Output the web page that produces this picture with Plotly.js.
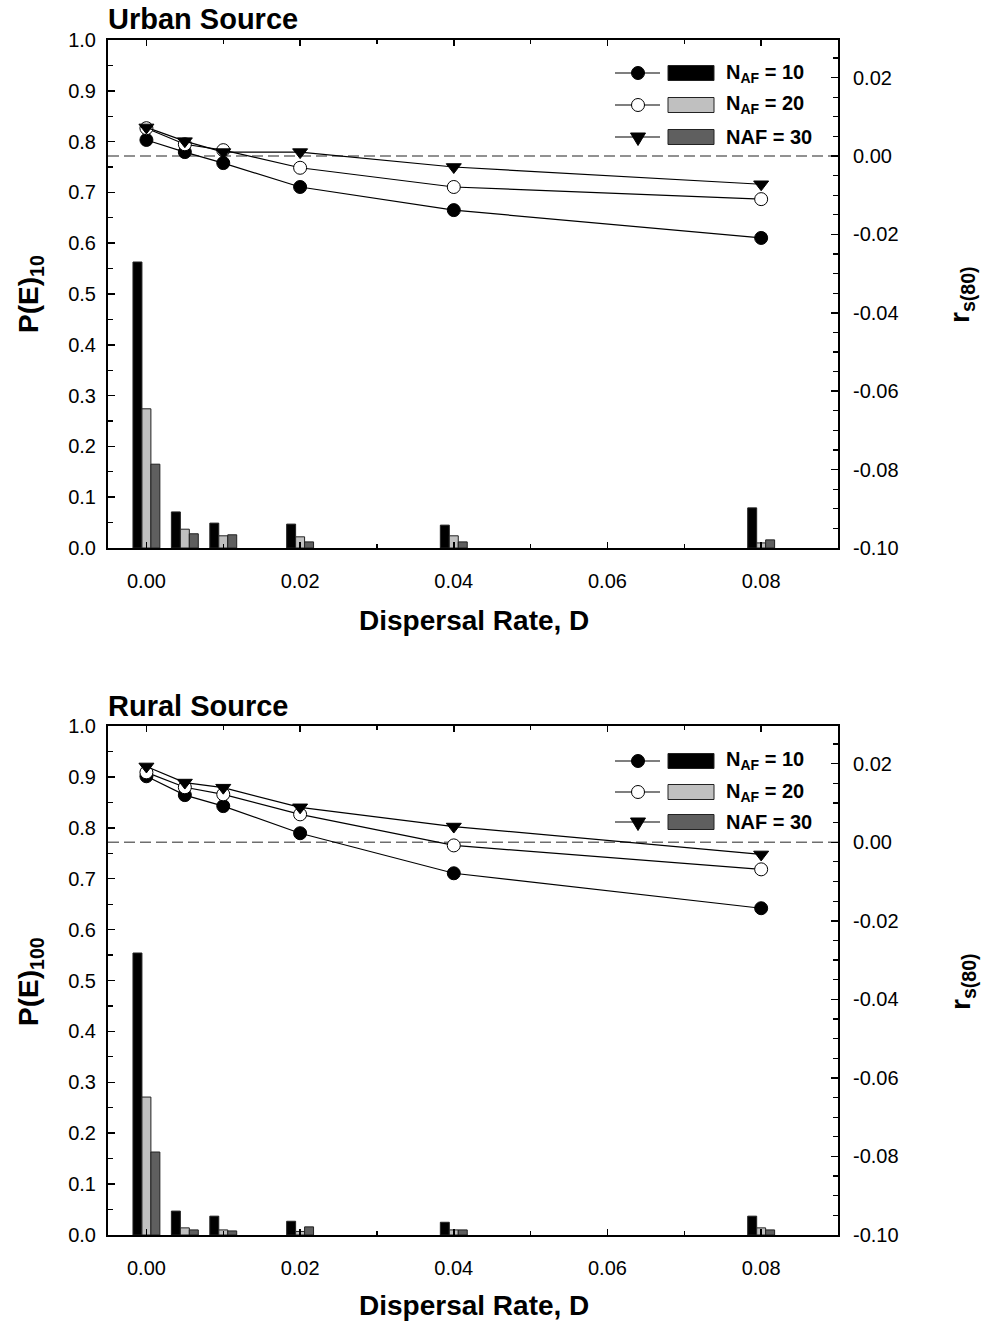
<!DOCTYPE html>
<html><head><meta charset="utf-8">
<script src="https://cdn.plot.ly/plotly-3.0.1.min.js"></script>
<style>body{margin:0;background:#fff}</style>
</head><body>
<div id="chart" style="width:982px;height:1322px"></div>
<script>
// ---- data ----
const dispersal = [0, 0.005, 0.01, 0.02, 0.04, 0.08];
const seriesNames = ['N<sub>AF</sub> = 10', 'N<sub>AF</sub> = 20', 'NAF = 30'];

const urbanP10 = [0.563, 0.071, 0.049, 0.047, 0.045, 0.079];
const urbanP20 = [0.274, 0.037, 0.024, 0.022, 0.024, 0.010];
const urbanP30 = [0.165, 0.028, 0.026, 0.012, 0.012, 0.016];
const urbanR10 = [0.0041, 0.0010, -0.0018, -0.0079, -0.0138, -0.0209];
const urbanR20 = [0.0071, 0.0030, 0.0015, -0.0030, -0.0079, -0.0110];
const urbanR30 = [0.0073, 0.0038, 0.0010, 0.0010, -0.0028, -0.0072];

const ruralP10 = [0.554, 0.047, 0.037, 0.027, 0.025, 0.037];
const ruralP20 = [0.271, 0.014, 0.010, 0.007, 0.010, 0.014];
const ruralP30 = [0.163, 0.010, 0.008, 0.016, 0.010, 0.010];
const ruralR10 = [0.0168, 0.0120, 0.0092, 0.0023, -0.0079, -0.0168];
const ruralR20 = [0.0178, 0.0140, 0.0122, 0.0071, -0.0008, -0.0069];
const ruralR30 = [0.0193, 0.0152, 0.0139, 0.0089, 0.0040, -0.0031];

const xTickVals = [0, 0.02, 0.04, 0.06, 0.08];
const xTickText = ['0.00', '0.02', '0.04', '0.06', '0.08'];
const pTickVals = [0, 0.1, 0.2, 0.3, 0.4, 0.5, 0.6, 0.7, 0.8, 0.9, 1.0];
const pTickText = ['0.0', '0.1', '0.2', '0.3', '0.4', '0.5', '0.6', '0.7', '0.8', '0.9', '1.0'];
const rTickVals = [-0.10, -0.08, -0.06, -0.04, -0.02, 0.00, 0.02];
const rTickText = ['-0.10', '-0.08', '-0.06', '-0.04', '-0.02', '0.00', '0.02'];

// ---- styles ----
const FONT = 'Liberation Sans, Arial, Helvetica, sans-serif';
const barColors = ['#000000', '#c0c0c0', '#5f5f5f'];
const markerDefs = [
  {symbol: 'circle', color: '#000000'},
  {symbol: 'circle', color: '#ffffff'},
  {symbol: 'triangle-down', color: '#000000'}
];

function barTrace(y, i, xa, ya) {
  return {type: 'bar', x: dispersal, y: y, xaxis: xa, yaxis: ya, showlegend: false,
    marker: {color: barColors[i], line: {color: '#222', width: 1}}, hoverinfo: 'skip'};
}
function lineTrace(y, i, xa, ya) {
  return {type: 'scatter', mode: 'lines+markers', x: dispersal, y: y, xaxis: xa, yaxis: ya,
    showlegend: false, cliponaxis: false,
    line: {color: '#000', width: 1.2},
    marker: {symbol: markerDefs[i].symbol, color: markerDefs[i].color, size: 13,
      line: {color: '#000', width: 1}}};
}

const traces = [
  barTrace(urbanP10, 0, 'x', 'y'), barTrace(urbanP20, 1, 'x', 'y'), barTrace(urbanP30, 2, 'x', 'y'),
  lineTrace(urbanR10, 0, 'x', 'y2'), lineTrace(urbanR20, 1, 'x', 'y2'), lineTrace(urbanR30, 2, 'x', 'y2'),
  barTrace(ruralP10, 0, 'x2', 'y3'), barTrace(ruralP20, 1, 'x2', 'y3'), barTrace(ruralP30, 2, 'x2', 'y3'),
  lineTrace(ruralR10, 0, 'x2', 'y4'), lineTrace(ruralR20, 1, 'x2', 'y4'), lineTrace(ruralR30, 2, 'x2', 'y4')
];

const tickFont = {family: FONT, size: 20, color: '#000'};
function xAxis(anchor) {
  return {anchor: anchor, domain: [0, 1], range: [-0.005, 0.09], tickmode: 'array',
    tickvals: xTickVals, ticktext: xTickText, ticks: 'inside', ticklen: 6, tickwidth: 1.5,
    tickcolor: '#000', minor: {tick0: 0, dtick: 0.01, ticks: 'inside', ticklen: 4, tickwidth: 1.2, tickcolor: '#000'},
    showline: true, linewidth: 2, linecolor: '#000', mirror: 'ticks', showgrid: false,
    zeroline: false, tickfont: tickFont, ticklabelstandoff: 14, fixedrange: true};
}
function pAxis(domain, anchor) {
  return {anchor: anchor, domain: domain, range: [0, 1], tickmode: 'array', tickvals: pTickVals,
    ticktext: pTickText, ticks: 'inside', ticklen: 7, tickwidth: 1.5, tickcolor: '#000',
    minor: {tick0: 0, dtick: 0.05, ticks: 'inside', ticklen: 5, tickwidth: 1.2, tickcolor: '#000'},
    showline: true, linewidth: 2, linecolor: '#000', showgrid: false, zeroline: false,
    tickfont: tickFont, ticklabelstandoff: 6};
}
function rAxis(over, anchor) {
  return {overlaying: over, anchor: anchor, side: 'right', range: [-0.1, 0.0296],
    tickmode: 'array', tickvals: rTickVals, ticktext: rTickText, ticks: 'inside', ticklen: 7,
    tickwidth: 1.5, tickcolor: '#000',
    minor: {tick0: 0, dtick: 0.005, ticks: 'inside', ticklen: 5, tickwidth: 1.2, tickcolor: '#000'},
    showline: true, linewidth: 2, linecolor: '#000', showgrid: false, zeroline: false,
    tickfont: tickFont, ticklabelstandoff: 9};
}

// paper coordinate helpers (plot area: x 108..838, y 40..1235)
const px = v => (v - 108) / 730;
const py = v => (1235 - v) / 1195;

const shapes = [
  {type: 'line', xref: 'paper', x0: 0, x1: 1, yref: 'y2', y0: 0, y1: 0,
    line: {color: '#6e6e6e', width: 1.4, dash: '11px,5px'}, layer: 'below'},
  {type: 'line', xref: 'paper', x0: 0, x1: 1, yref: 'y4', y0: 0, y1: 0,
    line: {color: '#6e6e6e', width: 1.4, dash: '11px,5px'}, layer: 'below'}
];
const annotations = [];

function addLegend(rows) {
  rows.forEach((ry, i) => {
    const yy = py(ry);
    shapes.push({type: 'line', xref: 'paper', yref: 'paper', x0: px(615), x1: px(660), y0: yy, y1: yy,
      line: {color: '#000', width: 1.2}});
    if (i < 2) {
      shapes.push({type: 'circle', xref: 'paper', yref: 'paper', xsizemode: 'pixel', ysizemode: 'pixel',
        xanchor: px(638), yanchor: yy, x0: -6.5, x1: 6.5, y0: -6.5, y1: 6.5,
        fillcolor: markerDefs[i].color, line: {color: '#000', width: 1}});
    } else {
      shapes.push({type: 'path', xref: 'paper', yref: 'paper', xsizemode: 'pixel', ysizemode: 'pixel',
        xanchor: px(638), yanchor: yy, path: 'M-7.5,4 L7.5,4 L0,-8.5 Z',
        fillcolor: '#000', line: {color: '#000', width: 1}});
    }
    shapes.push({type: 'rect', xref: 'paper', yref: 'paper', xsizemode: 'pixel', ysizemode: 'pixel',
      xanchor: px(691), yanchor: yy, x0: -23, x1: 23, y0: -7.5, y1: 7.5,
      fillcolor: barColors[i], line: {color: '#222', width: 1}});
    annotations.push({xref: 'paper', yref: 'paper', x: px(724), y: yy, xanchor: 'left', yanchor: 'middle',
      text: '<b>' + seriesNames[i] + '</b>', showarrow: false,
      font: {family: FONT, size: 20, color: '#000'}});
  });
}
addLegend([73, 105, 137]);
addLegend([761, 792, 822]);

function ann(text, x, y, size, opts) {
  annotations.push(Object.assign({xref: 'paper', yref: 'paper', x: x, y: y, text: text, showarrow: false,
    font: {family: FONT, size: size, color: '#000'}}, opts || {}));
}
ann('<b>Urban Source</b>', px(106), py(19), 29, {xanchor: 'left', yanchor: 'middle'});
ann('<b>Rural Source</b>', px(106), py(706), 29, {xanchor: 'left', yanchor: 'middle'});
ann('<b>Dispersal Rate, D</b>', px(474), py(620), 28, {xanchor: 'center', yanchor: 'middle'});
ann('<b>Dispersal Rate, D</b>', px(474), py(1305), 28, {xanchor: 'center', yanchor: 'middle'});
ann('<b>P(E)<sub>10</sub></b>', px(30), py(294), 28, {xanchor: 'center', yanchor: 'middle', textangle: -90});
ann('<b>P(E)<sub>100</sub></b>', px(30), py(982), 28, {xanchor: 'center', yanchor: 'middle', textangle: -90});
ann('<b>r<sub>s(80)</sub></b>', px(962), py(295), 28, {xanchor: 'center', yanchor: 'middle', textangle: -90});
ann('<b>r<sub>s(80)</sub></b>', px(962), py(982), 28, {xanchor: 'center', yanchor: 'middle', textangle: -90});

const layout = {
  width: 982, height: 1322,
  margin: {l: 108, r: 144, t: 40, b: 87},
  paper_bgcolor: '#fff', plot_bgcolor: '#fff',
  showlegend: false, barmode: 'group', bargap: 0.3, bargroupgap: 0,
  font: {family: FONT, color: '#000'},
  xaxis: xAxis('y'),
  yaxis: pAxis([py(548), 1], 'x'),
  yaxis2: rAxis('y', 'x'),
  xaxis2: xAxis('y3'),
  yaxis3: pAxis([0, py(726)], 'x2'),
  yaxis4: rAxis('y3', 'x2'),
  shapes: shapes,
  annotations: annotations
};

Plotly.newPlot('chart', traces, layout, {staticPlot: true, displayModeBar: false});
</script>
</body></html>
